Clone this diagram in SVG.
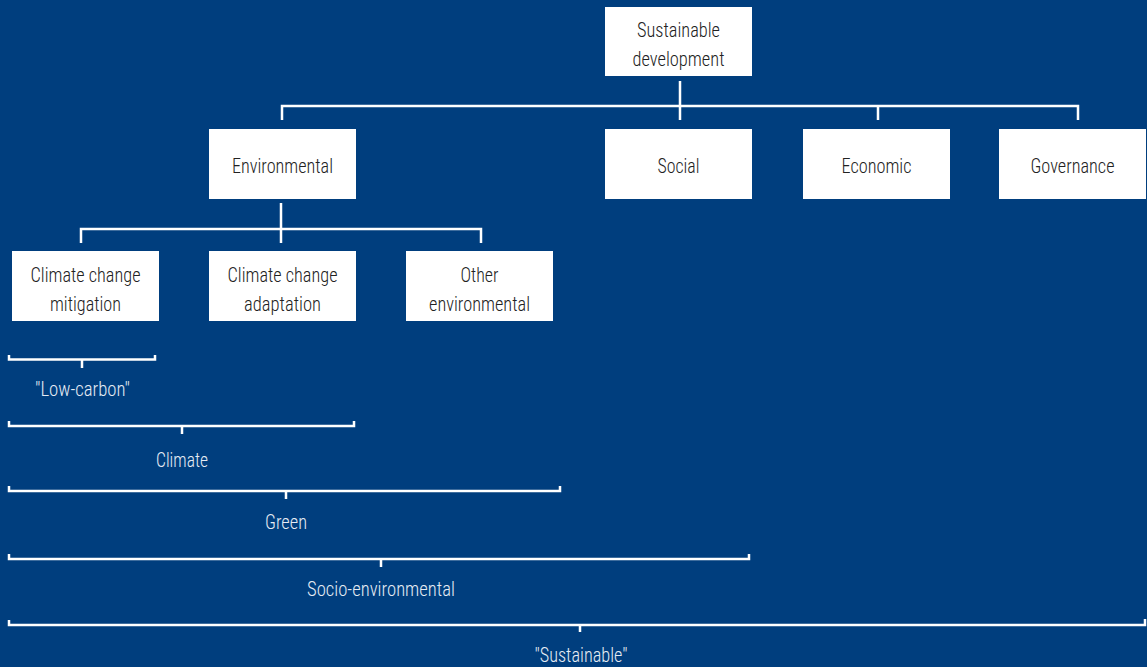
<svg xmlns="http://www.w3.org/2000/svg" width="1147" height="667" viewBox="0 0 1147 667">
<style>
.box{fill:#ffffff}
.t{font-family:"Roboto Condensed",Roboto,"Liberation Sans",sans-serif;font-size:20px;font-weight:300;fill:#222222;text-anchor:middle}
.l{font-family:"Roboto Condensed",Roboto,"Liberation Sans",sans-serif;font-size:20px;font-weight:300;fill:#e6ecf4;text-anchor:middle}
.c{fill:none;stroke:#ffffff;stroke-width:2.5}
</style>
<rect width="1147" height="667" fill="#003e7e"/>
<g id="connectors">
<path class="c" d="M680 81V120M282 120V106H1078V120M878 106V120"/>
<path class="c" d="M281 203V243M81 243V229H481V243"/>
</g>
<g id="brackets">
<path class="c" d="M9 355V359.5H155V355M82 359.5V368"/>
<path class="c" d="M9 421V426H354V421M182 426V434"/>
<path class="c" d="M9 486V491H560V486M286 491V499"/>
<path class="c" d="M9 554V559H749V554M381 559V567"/>
<path class="c" d="M9 620V625H1145V619M580 625V632"/>
</g>
<g id="n-sustainable-development">
<rect class="box" x="605" y="7" width="147" height="69"/>
<text class="t" x="678.5" y="37" textLength="83" lengthAdjust="spacingAndGlyphs">Sustainable</text>
<text class="t" x="678.5" y="66" textLength="92" lengthAdjust="spacingAndGlyphs">development</text>
</g>
<g id="n-environmental">
<rect class="box" x="209" y="129" width="147" height="70"/>
<text class="t" x="282.5" y="172.5" textLength="101" lengthAdjust="spacingAndGlyphs">Environmental</text>
</g>
<g id="n-social">
<rect class="box" x="605" y="129" width="147" height="70"/>
<text class="t" x="678.5" y="172.5" textLength="42" lengthAdjust="spacingAndGlyphs">Social</text>
</g>
<g id="n-economic">
<rect class="box" x="803" y="129" width="147" height="70"/>
<text class="t" x="876.5" y="172.5" textLength="70" lengthAdjust="spacingAndGlyphs">Economic</text>
</g>
<g id="n-governance">
<rect class="box" x="999" y="129" width="147" height="70"/>
<text class="t" x="1072.5" y="172.5" textLength="84" lengthAdjust="spacingAndGlyphs">Governance</text>
</g>
<g id="n-mitigation">
<rect class="box" x="12" y="251" width="147" height="70"/>
<text class="t" x="85.5" y="282" textLength="110" lengthAdjust="spacingAndGlyphs">Climate change</text>
<text class="t" x="85.5" y="311" textLength="71" lengthAdjust="spacingAndGlyphs">mitigation</text>
</g>
<g id="n-adaptation">
<rect class="box" x="209" y="251" width="147" height="70"/>
<text class="t" x="282.5" y="282" textLength="110" lengthAdjust="spacingAndGlyphs">Climate change</text>
<text class="t" x="282.5" y="311" textLength="77" lengthAdjust="spacingAndGlyphs">adaptation</text>
</g>
<g id="n-other">
<rect class="box" x="406" y="251" width="147" height="70"/>
<text class="t" x="479.5" y="282" textLength="38" lengthAdjust="spacingAndGlyphs">Other</text>
<text class="t" x="479.5" y="311" textLength="101" lengthAdjust="spacingAndGlyphs">environmental</text>
</g>
<g id="labels">
<text class="l" x="82.5" y="396" textLength="95" lengthAdjust="spacingAndGlyphs">"Low-carbon"</text>
<text class="l" x="182" y="466.5" textLength="52" lengthAdjust="spacingAndGlyphs">Climate</text>
<text class="l" x="286" y="528.5" textLength="42" lengthAdjust="spacingAndGlyphs">Green</text>
<text class="l" x="381" y="595.5" textLength="148" lengthAdjust="spacingAndGlyphs">Socio-environmental</text>
<text class="l" x="581" y="662" textLength="93" lengthAdjust="spacingAndGlyphs">"Sustainable"</text>
</g>
</svg>
